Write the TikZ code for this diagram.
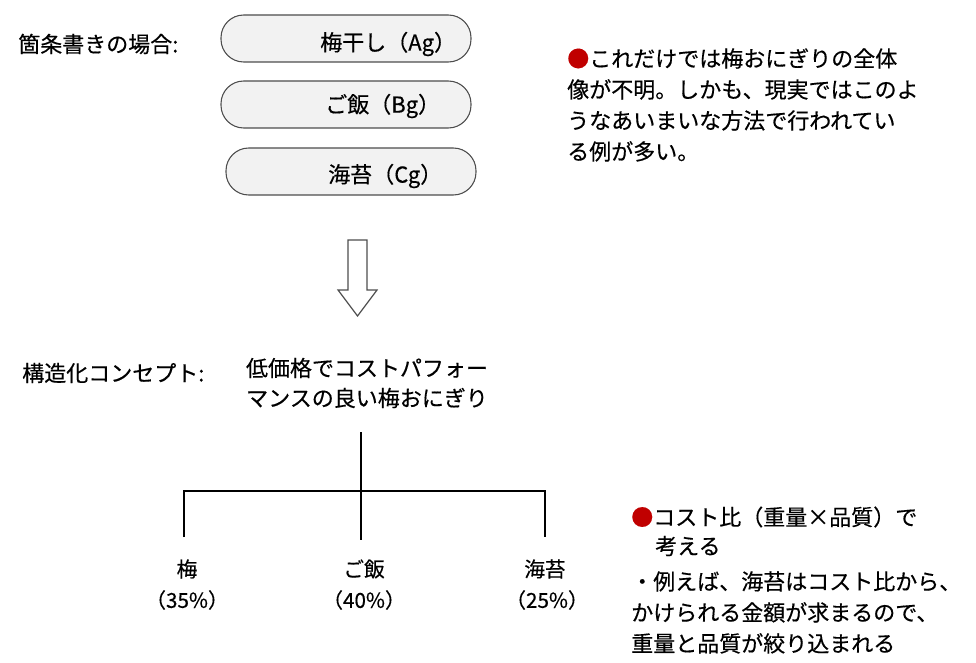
\documentclass[tikz,border=0pt]{standalone}
\usepackage{fontspec}
\setmainfont[FakeBold=0.4]{Noto Sans CJK JP}
\definecolor{bul}{HTML}{C00000}
\definecolor{pillfill}{HTML}{F2F2F2}
\definecolor{pillline}{HTML}{4D4D4D}
\tikzset{
  txt/.style={inner sep=0pt, anchor=west, font=\fontsize{16.5pt}{23.25pt}\selectfont},
  para/.style={inner sep=0pt, anchor=north west, align=left, font=\fontsize{16.5pt}{23.25pt}\selectfont},
  small/.style={inner sep=0pt, font=\fontsize{15.5pt}{18pt}\selectfont},
  pill/.style={draw=pillline, fill=pillfill, line width=0.8pt, rounded corners=17pt},
  tree/.style={line width=0.9pt, black}
}
\begin{document}
\begin{tikzpicture}[x=0.75pt,y=-0.75pt]
\useasboundingbox (0,0) rectangle (976,663);
% left labels
\node[txt] (l1) at (18,44) {箇条書きの場合:};
% pills
\draw[pill] (221,15) rectangle (471,62);
\node[txt] (p1) at (320,44) {梅干し（Ag）};
\draw[pill] (221,81) rectangle (471,128);
\node[txt] (p2) at (325,106) {ご飯（Bg）};
\draw[pill] (226,148) rectangle (476,195);
\node[txt] (p3) at (328,176) {海苔（Cg）};
% block arrow
\draw[pillline, line width=0.9pt, fill=white]
  (348,240) -- (367,240) -- (367,290) -- (377,290) -- (357.5,316) -- (338,290) -- (348,290) -- cycle;
% right top text
\node[para] (t1) at (567,48) {{\color{bul}●}これだけでは梅おにぎりの全体\\像が不明。しかも、現実ではこのよ\\うなあいまいな方法で行われてい\\る例が多い。};
% structured concept
\node[txt] (l2) at (22,373) {構造化コンセプト:};
\node[inner sep=0pt, align=center, font=\fontsize{16.5pt}{22.5pt}\selectfont] (c) at (367,383) {低価格でコストパフォー\\マンスの良い梅おにぎり};
% tree
\coordinate (top) at (361,432);
\coordinate (j) at (361,491);
\coordinate (jl) at (184,491);
\coordinate (jr) at (545,491);
\coordinate (el) at (184,537);
\coordinate (em) at (361,540);
\coordinate (er) at (545,537);
\draw[tree] (top) -- (em);
\draw[tree] (el) -- (jl) -- (jr) -- (er);
\node[small] (a) at (187,569) {梅};
\node[small] (ap) at (187,600) {（35\%）};
\node[small] (b) at (364,569) {ご飯};
\node[small] (bp) at (364,600) {（40\%）};
\node[small] (cc) at (545,569) {海苔};
\node[small] (cp) at (547,600) {（25\%）};
% bottom right text
\node[txt] (r1) at (631,517) {{\color{bul}●}コスト比（重量×品質）で};
\node[txt] (r2) at (655,546) {考える};
\node[para] (r3) at (631,571) {・例えば、海苔はコスト比から、\\かけられる金額が求まるので、\\重量と品質が絞り込まれる};
\end{tikzpicture}
\end{document}
